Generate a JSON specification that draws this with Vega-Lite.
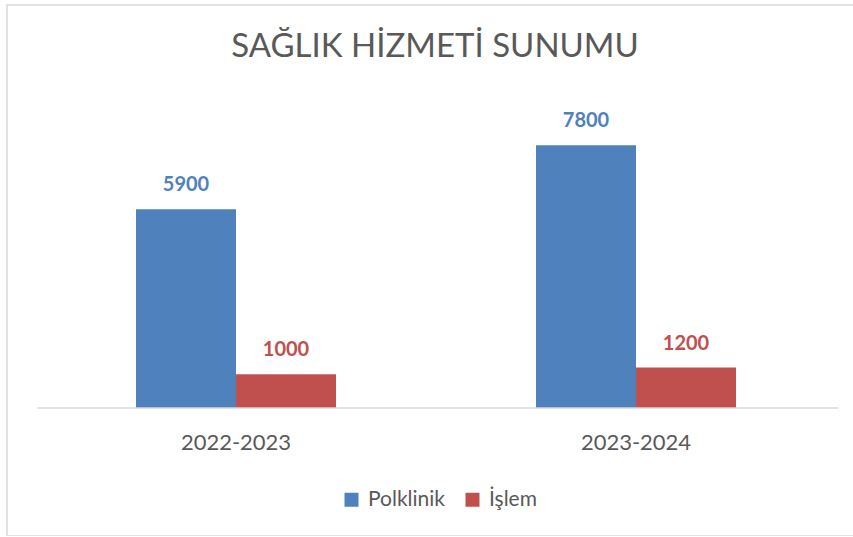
{
  "$schema": "https://vega.github.io/schema/vega-lite/v6.json",
  "autosize": {"type": "none"},
  "padding": {"left": 7, "top": 5, "right": 0, "bottom": 0},
  "width": 850,
  "height": 531,
  "background": "white",
  "config": {
    "view": {"stroke": "#d9d9d9", "strokeWidth": 1.5},
    "font": "Lato"
  },
  "title": {
    "text": "SAĞLIK HİZMETİ SUNUMU",
    "font": "Lato",
    "fontSize": 33,
    "fontWeight": "normal",
    "color": "#595959",
    "anchor": "middle",
    "baseline": "alphabetic",
    "offset": -85,
    "dx": 3
  },
  "datasets": {
    "bars": [
      {"year": "2022-2023", "series": "Polklinik", "value": 5900},
      {"year": "2022-2023", "series": "İşlem", "value": 1000},
      {"year": "2023-2024", "series": "Polklinik", "value": 7800},
      {"year": "2023-2024", "series": "İşlem", "value": 1200}
    ],
    "base": [
      {"from": "2022-2023", "to": "2023-2024"}
    ]
  },
  "layer": [
    {
      "data": {"name": "bars"},
      "mark": {"type": "bar"},
      "encoding": {
        "x": {
          "field": "year", "type": "nominal", "sort": ["2022-2023", "2023-2024"],
          "scale": {"paddingInner": 0.5, "paddingOuter": 0.3125, "align": 0.516},
          "axis": {
            "orient": "bottom", "offset": -123, "domain": false, "ticks": false,
            "labelAngle": 0, "labelFont": "Lato", "labelFontSize": 22,
            "labelColor": "#595959", "labelPadding": 19, "title": null
          }
        },
        "xOffset": {
          "field": "series", "type": "nominal", "sort": ["Polklinik", "İşlem"],
          "scale": {"paddingInner": 0, "paddingOuter": 0}
        },
        "y": {
          "field": "value", "type": "quantitative",
          "scale": {"domain": [-3798, 11958], "nice": false, "zero": false},
          "axis": null
        },
        "y2": {"datum": 0},
        "color": {
          "field": "series", "type": "nominal",
          "sort": ["Polklinik", "İşlem"],
          "scale": {"domain": ["Polklinik", "İşlem"], "range": ["#4F81BD", "#C0504D"]},
          "legend": {
            "title": null, "orient": "none", "direction": "horizontal",
            "legendX": 334, "legendY": 484,
            "symbolType": "square", "symbolSize": 196, "symbolStrokeWidth": 0,
            "labelFont": "Lato", "labelFontSize": 21, "labelColor": "#595959",
            "labelOffset": 6, "columnPadding": 16
          }
        }
      }
    },
    {
      "data": {"name": "bars"},
      "mark": {"type": "text", "font": "Lato", "fontSize": 20, "fontWeight": "bold", "baseline": "alphabetic", "dy": -18},
      "encoding": {
        "x": {"field": "year", "type": "nominal", "sort": ["2022-2023", "2023-2024"]},
        "xOffset": {"field": "series", "type": "nominal", "sort": ["Polklinik", "İşlem"]},
        "y": {"field": "value", "type": "quantitative"},
        "text": {"field": "value", "type": "quantitative", "format": "d"},
        "color": {"field": "series", "type": "nominal", "legend": null}
      }
    },
    {
      "data": {"name": "base"},
      "mark": {"type": "rule", "color": "#d9d9d9", "strokeWidth": 1.5},
      "encoding": {
        "x": {"field": "from", "type": "nominal", "bandPosition": -0.495},
        "x2": {"field": "to", "bandPosition": 1.51},
        "y": {"datum": 0}
      }
    }
  ]
}
